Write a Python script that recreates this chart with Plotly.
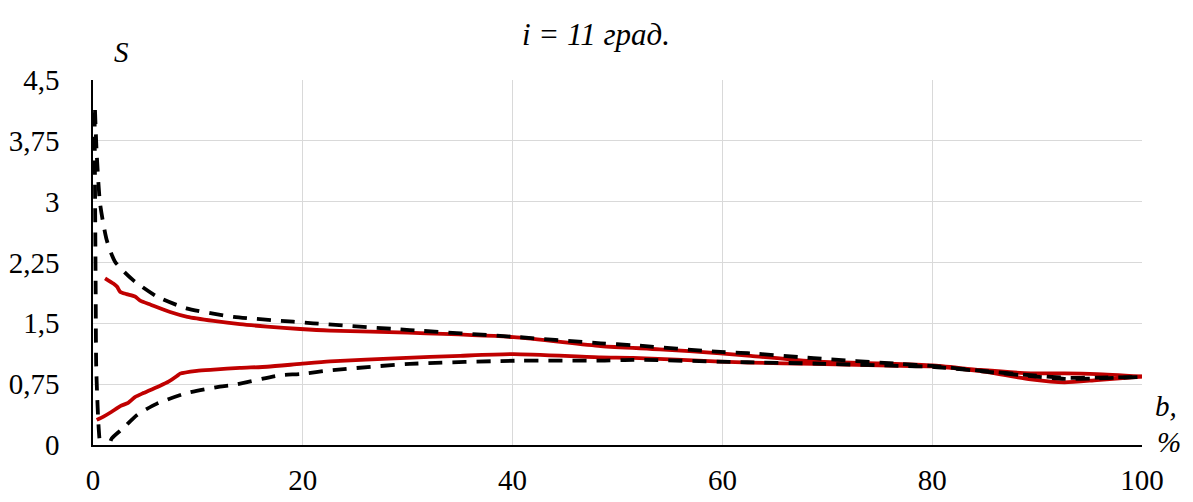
import plotly.graph_objects as go

# Upper and lower boundary curves, b in %, S dimensionless
b_red_upper = [1.15, 1.94, 2.3, 2.58, 3.2, 4.0, 4.5, 5.5, 7.35, 9.0, 11.5, 14.0, 16.6, 19.75, 22.6, 30.0, 40.1,
               48.4, 54.0, 59.8, 62.7, 68.7, 75.0, 80.0, 84.6, 89.4, 92.6, 95.7, 100.0]
s_red_upper = [2.055, 1.99, 1.95, 1.89, 1.86, 1.83, 1.78, 1.73, 1.64, 1.58, 1.53, 1.49, 1.46, 1.43, 1.41, 1.385, 1.33,
               1.22, 1.18, 1.13, 1.10, 1.03, 1.005, 0.98, 0.925, 0.884, 0.884, 0.875, 0.845]

b_red_lower = [0.35, 1.0, 1.78, 2.6, 3.35, 4.0, 4.8, 6.4, 7.2, 8.0, 8.3, 9.9, 11.5, 14.0, 16.6, 19.75, 22.6, 29.3,
               35.0, 40.1, 48.4, 51.5, 59.8, 62.7, 68.7, 77.0, 80.0, 84.6, 89.4, 92.6, 95.7, 100.0]
s_red_lower = [0.31, 0.35, 0.41, 0.48, 0.52, 0.59, 0.64, 0.73, 0.78, 0.85, 0.88, 0.915, 0.93, 0.95, 0.965, 1.0, 1.03,
               1.07, 1.10, 1.12, 1.08, 1.075, 1.027, 1.015, 1.0, 0.975, 0.97, 0.91, 0.81, 0.773, 0.80, 0.842]

b_dash_upper = [0.19, 0.35, 0.67, 1.3, 2.1, 3.85, 6.1, 8.9, 13.4, 19.1, 21.0, 30.2, 40.0, 48.4, 51.5, 59.8, 62.7,
                68.7, 77.0, 80.0, 84.6, 89.4, 92.6, 95.7, 100.0]
s_dash_upper = [4.13, 3.60, 2.98, 2.53, 2.26, 2.03, 1.83, 1.685, 1.58, 1.52, 1.50, 1.417, 1.335, 1.254, 1.23, 1.147, 1.13,
                1.07, 1.0, 0.975, 0.916, 0.86, 0.83, 0.83, 0.84]

b_dash_lower = [0.15, 0.2, 0.25, 0.3, 0.4, 0.5, 0.6, 0.7, 0.9, 1.3, 1.78, 2.9, 4.2, 6.1, 8.9, 12.1, 13.4, 17.8, 19.75,
                22.6, 30.2, 40.7, 48.4, 51.5, 62.4, 68.7, 77.0, 80.0, 84.6, 89.4, 92.6, 95.7, 100.0]
s_dash_lower = [4.1, 3.0, 2.0, 1.0, 0.6, 0.3, 0.1, -0.02, -0.12, -0.1, 0.08, 0.21, 0.37, 0.51, 0.64, 0.72, 0.74, 0.86, 0.875,
                0.92, 1.0, 1.04, 1.04, 1.05, 1.02, 1.005, 0.975, 0.965, 0.91, 0.85, 0.815, 0.82, 0.84]

y_ticks = [0, 0.75, 1.5, 2.25, 3, 3.75, 4.5]
y_tick_text = ["0", "0,75", "1,5", "2,25", "3", "3,75", "4,5"]
x_ticks = [0, 20, 40, 60, 80, 100]
x_tick_text = ["0", "20", "40", "60", "80", "100"]

RED = "#c00000"
FONT = "'Liberation Serif', 'Times New Roman', serif"

fig = go.Figure()
fig.add_trace(go.Scatter(x=b_red_upper, y=s_red_upper, mode="lines",
                         line=dict(color=RED, width=3.8, shape="spline", smoothing=0.6)))
fig.add_trace(go.Scatter(x=b_red_lower, y=s_red_lower, mode="lines",
                         line=dict(color=RED, width=3.8, shape="spline", smoothing=0.6)))
fig.add_trace(go.Scatter(x=b_dash_upper, y=s_dash_upper, mode="lines",
                         line=dict(color="black", width=3.8, dash="14px,10px", shape="spline", smoothing=0.6)))
fig.add_trace(go.Scatter(x=b_dash_lower, y=s_dash_lower, mode="lines",
                         line=dict(color="black", width=3.8, dash="14px,10px", shape="spline", smoothing=0.6)))

fig.update_layout(
    width=1193, height=502,
    margin=dict(l=93, r=51, t=80, b=57),
    paper_bgcolor="white", plot_bgcolor="white",
    showlegend=False,
    font=dict(family=FONT, size=29, color="black"),
    annotations=[
        dict(text="<i>i = 11 град.</i>", x=596, y=34),
        dict(text="<i>S</i>", x=121, y=52),
        dict(text="<i>b,</i>", x=1166, y=406),
        dict(text="<i>%</i>", x=1169, y=442),
    ],
)
# annotation positions given in pixels from the top-left corner of the page
plot_w = 1193 - 93 - 51
plot_h = 502 - 80 - 57
for ann in fig.layout.annotations:
    px, py = ann.x, ann.y
    ann.update(xref="paper", yref="paper", x=(px - 93) / plot_w, y=(502 - 57 - py) / plot_h,
               showarrow=False, xanchor="center", yanchor="middle",
               font=dict(size=31 if "град" in ann.text else 29))

# invisible tick marks set the gap between the axes and their labels
fig.update_xaxes(range=[0, 100], tickvals=x_ticks, ticktext=x_tick_text, automargin=False,
                 showgrid=True, gridcolor="#d9d9d9", gridwidth=1,
                 showline=True, linecolor="black", linewidth=1.5,
                 zeroline=False, ticks="outside", ticklen=8, tickcolor="rgba(0,0,0,0)")
fig.update_yaxes(range=[0, 4.5], tickvals=y_ticks, ticktext=y_tick_text, automargin=False,
                 showgrid=True, gridcolor="#d9d9d9", gridwidth=1,
                 showline=True, linecolor="black", linewidth=1.5,
                 zeroline=False, ticks="outside", ticklen=26, tickcolor="rgba(0,0,0,0)")

fig.write_html("out.html")
